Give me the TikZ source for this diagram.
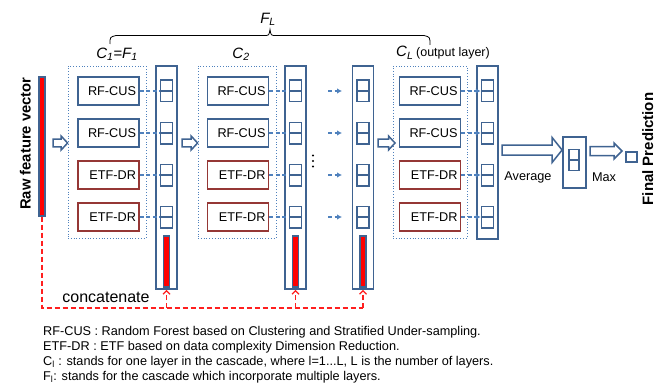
\documentclass[tikz,border=0pt]{standalone}
\usepackage{fontspec}
\setmainfont{Liberation Sans}
\usetikzlibrary{calc,arrows.meta}

\definecolor{boxblue}{HTML}{3F6391}
\definecolor{boxred}{HTML}{953735}
\definecolor{linkblue}{HTML}{4F81BD}
\definecolor{dotblue}{HTML}{4F81BD}
\definecolor{catred}{HTML}{FF1F1F}

% hollow block arrow: start, end, shaft half-width, head half-width, head length
\newcommand\hollowarrow[5]{%
  \draw[barrow] ($(#1)+(0,#3)$) -- ($(#2)+(-#5,#3)$) -- ($(#2)+(-#5,#4)$) -- (#2)
    -- ($(#2)+(-#5,-#4)$) -- ($(#2)+(-#5,-#3)$) -- ($(#1)+(0,-#3)$) -- cycle;}

\tikzset{
  txt/.style={font=\fontsize{12.7}{14}\selectfont},
  clsbox/.style={draw=boxblue, line width=1.8pt, minimum width=61pt, minimum height=28.5pt,
    text width=55pt, align=right, inner xsep=3pt, inner ysep=0pt, txt},
  rfbox/.style={clsbox, draw=boxblue},
  etfbox/.style={clsbox, draw=boxred},
  layer/.style={draw=dotblue, dotted, line width=0.8pt, inner sep=0pt},
  colbox/.style={draw=boxblue, line width=1.8pt, minimum width=21pt, inner sep=0pt},
  cell/.style={draw=boxblue, line width=1.5pt, minimum width=12pt, minimum height=21.5pt,
    inner sep=0pt, path picture={\draw[boxblue, line width=1.5pt]
      (path picture bounding box.west) -- (path picture bounding box.east);}},
  redbar/.style={fill=red, draw=boxblue, line width=1.4pt, minimum width=6pt, inner sep=0pt},
  link/.style={draw=linkblue, line width=1.3pt, dash pattern=on 4pt off 2.5pt},
  linkarrow/.style={link, -{Latex[length=5pt,width=5.5pt]}},
  barrow/.style={draw=boxblue, line width=1.5pt, fill=white, line join=miter},
  catline/.style={draw=catred, line width=1.2pt, dash pattern=on 5pt off 3pt},
  catarrow/.style={catline, -{Straight Barb[length=3.5pt,width=7pt]}},
  biglabel/.style={font=\bfseries\fontsize{14.8}{16}\selectfont, rotate=90, anchor=base, inner sep=0pt},
  layerlabel/.style={font=\itshape\fontsize{15}{17}\selectfont},
}

\begin{document}
\begin{tikzpicture}[x=1pt, y=-1pt]
\useasboundingbox (0,0) rectangle (655,385);
\fill[white] (0,0) rectangle (655,385);

% raw feature vector
\node[redbar, minimum height=139pt] (raw) at (42,146.5) {};
\node[biglabel] (rawlbl) at (30.5,143.5) {Raw feature vector};

% cascade layers
\node[layer, minimum width=78pt, minimum height=172pt] (L1) at (107,152) {};
\node[layer, minimum width=78pt, minimum height=172pt] (L2) at (237,152) {};
\node[layer, minimum width=74pt, minimum height=172pt] (LL) at (430,152) {};

% class vector columns
\node[colbox, minimum height=223pt] (col1) at (166.5,177.5) {};
\node[colbox, minimum height=223pt] (col2) at (295.5,177.5) {};
\node[colbox, minimum height=223pt] (col3) at (363,177.5) {};
\node[colbox, minimum height=173pt] (col4) at (487.5,152.5) {};

\node[redbar, minimum height=51pt] (v1) at (166.5,261.5) {};
\node[redbar, minimum height=51pt] (v2) at (295.5,261.5) {};
\node[redbar, minimum height=51pt] (v3) at (363,261.5) {};

% forests and class vectors
\foreach \r/\y/\s/\t in {1/91/rfbox/RF-CUS, 2/133/rfbox/RF-CUS, 3/175/etfbox/ETF-DR, 4/217/etfbox/ETF-DR} {
  \node[\s] (a\r) at (108.5,\y) {\t};
  \node[\s] (b\r) at (238,\y) {\t};
  \node[\s] (z\r) at (430,\y) {\t};
  \node[cell] (p\r) at (166.5,\y) {};
  \node[cell] (q\r) at (295.5,\y) {};
  \node[cell] (s\r) at (363,\y) {};
  \node[cell] (o\r) at (487.5,\y) {};
  \coordinate (ms\r) at (328,\y);
  \coordinate (me\r) at (342,\y);
  \draw[link] (a\r.east) -- (p\r.west);
  \draw[link] (b\r.east) -- (q\r.west);
  \draw[linkarrow] (ms\r) -- (me\r);
  \draw[linkarrow] (z\r.east) -- (o\r.west);
}

% vertical ellipsis
\fill (313,155.5) circle (1.1pt);
\fill (313,161) circle (1.1pt);
\fill (313,166.5) circle (1.1pt);

% block arrows into each layer
\coordinate (h1s) at (53,143);  \coordinate (h1e) at (L1.west |- h1s);
\coordinate (h2s) at (182,143); \coordinate (h2e) at (L2.west |- h2s);
\coordinate (h3s) at (378,143); \coordinate (h3e) at (395,143);
\hollowarrow{h1s}{h1e}{3.8}{7}{6.5}
\hollowarrow{h2s}{h2e}{3.8}{7}{6.5}
\hollowarrow{h3s}{h3e}{3.8}{7}{6.5}

% averaging and final decision
\node[colbox, minimum width=23pt, minimum height=51pt] (avg) at (574.5,162.5) {};
\node[cell, minimum width=10pt, minimum height=21pt] (avgc) at (574,160) {};
\node[draw=boxblue, line width=1.5pt, minimum width=11pt, minimum height=10pt, inner sep=0pt] (fin) at (631.5,157) {};

\coordinate (avs) at (502,150); \coordinate (ave) at (avg.west |- avs);
\hollowarrow{avs}{ave}{5}{12.5}{10}
\coordinate (mxs) at (590,151); \coordinate (mxe) at (622,151);
\hollowarrow{mxs}{mxe}{4.5}{8}{8}

\node[txt] (avgtxt) at (528,177.5) {Average};
\node[txt] (maxtxt) at (604,177.5) {Max};
\node[biglabel, font=\bfseries\fontsize{15}{17}\selectfont] (finlbl) at (653,149) {Final Prediction};

% concatenation of the raw vector with each layer output
\coordinate (cb) at (42,308);
\draw[catline] (raw.south) -- (cb) -- (col3.south |- cb);
\draw[catarrow] (col1.south |- cb) -- (col1.south);
\draw[catarrow] (col2.south |- cb) -- (col2.south);
\draw[catarrow] (col3.south |- cb) -- (col3.south);
\node[font=\fontsize{16}{18}\selectfont] (cat) at (106,297) {concatenate};

% brace over the whole cascade
\draw[line width=0.8pt] (110,44) .. controls (110,37) .. (116,35.5) -- (264,35.5)
  .. controls (269,35.5) .. (270,29.5) .. controls (271,35.5) .. (276,35.5) -- (424,35.5)
  .. controls (430,37) .. (430,45);
\node[layerlabel] (fl) at (268,19) {F\textsubscript{L}};
\node[layerlabel] (c1) at (117,54) {C\textsubscript{1}=F\textsubscript{1}};
\node[layerlabel] (c2) at (241,54) {C\textsubscript{2}};
\node[anchor=west, inner sep=0pt] (cl) at (396,53)
  {{\itshape\fontsize{15}{17}\selectfont C\textsubscript{L}} {\fontsize{12.5}{14}\selectfont (output layer)}};

% legend
\node[txt, anchor=base west, inner sep=0pt] (n1) at (43,335.5) {RF-CUS : Random Forest based on Clustering and Stratified Under-sampling.};
\node[txt, anchor=base west, inner sep=0pt] (n2) at (43,350.5) {ETF-DR : ETF based on data complexity Dimension Reduction.};
\node[txt, anchor=base west, inner sep=0pt] (n3) at (43,365.5) {C\textsubscript{l} : stands for one layer in the cascade, where l=1...L, L is the number of layers.};
\node[txt, anchor=base west, inner sep=0pt] (n4) at (43,380.5) {F\textsubscript{l}: stands for the cascade which incorporate multiple layers.};
\end{tikzpicture}
\end{document}
